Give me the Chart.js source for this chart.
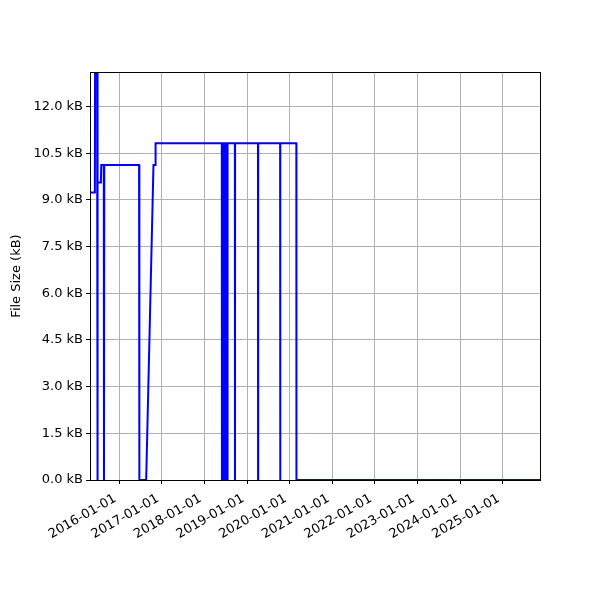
<!DOCTYPE html>
<html><head><meta charset="utf-8">
<script src="https://cdn.jsdelivr.net/npm/chart.js@4"></script>
<style>html,body{margin:0;padding:0;background:#fff}canvas{display:block}</style>
</head><body>
<canvas id="c" width="600" height="600"></canvas>
<script>
// ---- data ----
const DATES = [
  '2015-04-25T00:00Z','2015-06-05T19:00Z','2015-06-07T12:00Z','2015-06-24T17:00Z',
  '2015-06-26T10:00Z','2015-06-28T22:00Z','2015-07-01T12:00Z','2015-07-27T05:00Z',
  '2015-07-30T17:00Z','2015-08-21T02:00Z','2015-08-22T19:00Z','2015-08-25T10:00Z',
  '2016-06-18T19:00Z','2016-06-21T07:00Z','2016-08-18T14:00Z','2016-10-20T05:00Z',
  '2016-11-04T17:00Z','2016-11-07T05:00Z',
  '2018-05-29','2018-05-30','2018-05-31',
  '2018-06-10','2018-06-11','2018-06-12',
  '2018-06-22','2018-06-23','2018-06-24',
  '2018-07-04','2018-07-05','2018-07-06',
  '2018-07-16','2018-07-17','2018-07-18',
  '2018-09-18','2018-09-19','2018-09-20',
  '2019-04-04','2019-04-05','2019-04-06',
  '2019-10-11','2019-10-12','2019-10-13',
  '2020-02-27','2020-02-28','2025-11-16'
];
const SIZES_KB = [
  9.24, 9.24, 13.11, 13.11,
  0, 11.15, 9.56, 9.56,
  10.12, 10.12, 0, 10.12,
  10.12, 0, 0, 10.12,
  10.12, 10.82,
  10.82, 0, 10.82,
  10.82, 0, 10.82,
  10.82, 0, 10.82,
  10.82, 0, 10.82,
  10.82, 0, 10.82,
  10.82, 0, 10.82,
  10.82, 0, 10.82,
  10.82, 0, 10.82,
  10.82, 0, 0
];
const YEAR_TICKS = [2016, 2017, 2018, 2019, 2020, 2021, 2022, 2023, 2024, 2025];
const Y_TICKS = [0, 1.5, 3.0, 4.5, 6.0, 7.5, 9.0, 10.5, 12.0];
const X_MIN = '2015-04-25T00:00Z';
const X_MAX = '2025-11-16T00:00Z';
const Y_MAX = 13.11;
const Y_TITLE = 'File Size (kB)';

const points = DATES.map((d, i) => ({ x: Date.parse(d), y: SIZES_KB[i] }));
const FONT = { family: 'DejaVu Sans', size: 13 };

const frame = {
  id: 'frame',
  afterDraw(chart) {
    const { ctx, chartArea: a } = chart;
    ctx.save();
    ctx.strokeStyle = '#000';
    ctx.lineWidth = 1;
    ctx.strokeRect(a.left + 0.5, a.top + 0.5, a.right - a.left, a.bottom - a.top);
    ctx.restore();
  }
};

new Chart(document.getElementById('c'), {
  type: 'line',
  data: { datasets: [{ data: points, borderColor: '#0000ff', borderWidth: 2, pointRadius: 0, tension: 0, fill: false }] },
  options: {
    responsive: false, animation: false,
    layout: { padding: { top: 72, right: 60, left: 0, bottom: 0 } },
    plugins: { legend: { display: false }, tooltip: { enabled: false } },
    scales: {
      x: {
        type: 'linear', min: Date.parse(X_MIN), max: Date.parse(X_MAX),
        afterBuildTicks: s => { s.ticks = YEAR_TICKS.map(y => ({ value: Date.UTC(y, 0, 1) })); },
        ticks: { autoSkip: false, minRotation: 30, maxRotation: 30, color: '#000', font: FONT, padding: 7, labelOffset: -4,
                 callback: v => new Date(v).toISOString().slice(0, 10) },
        grid: { color: '#b0b0b0', lineWidth: 1, tickColor: '#000', tickLength: 4, tickWidth: 1 },
        border: { display: false },
        afterFit: s => { s.height = 120; }
      },
      y: {
        min: 0, max: Y_MAX,
        afterBuildTicks: s => { s.ticks = Y_TICKS.map(v => ({ value: v })); },
        ticks: { color: '#000', font: FONT, padding: 3, callback: v => v.toFixed(1) + ' kB' },
        grid: { color: '#b0b0b0', lineWidth: 1, tickColor: '#000', tickLength: 4, tickWidth: 1 },
        border: { display: false },
        title: { display: true, text: Y_TITLE, color: '#000', font: FONT, padding: { top: 9, bottom: 0 } },
        afterFit: s => { s.width = 90; }
      }
    }
  },
  plugins: [frame]
});
</script>
</body></html>
